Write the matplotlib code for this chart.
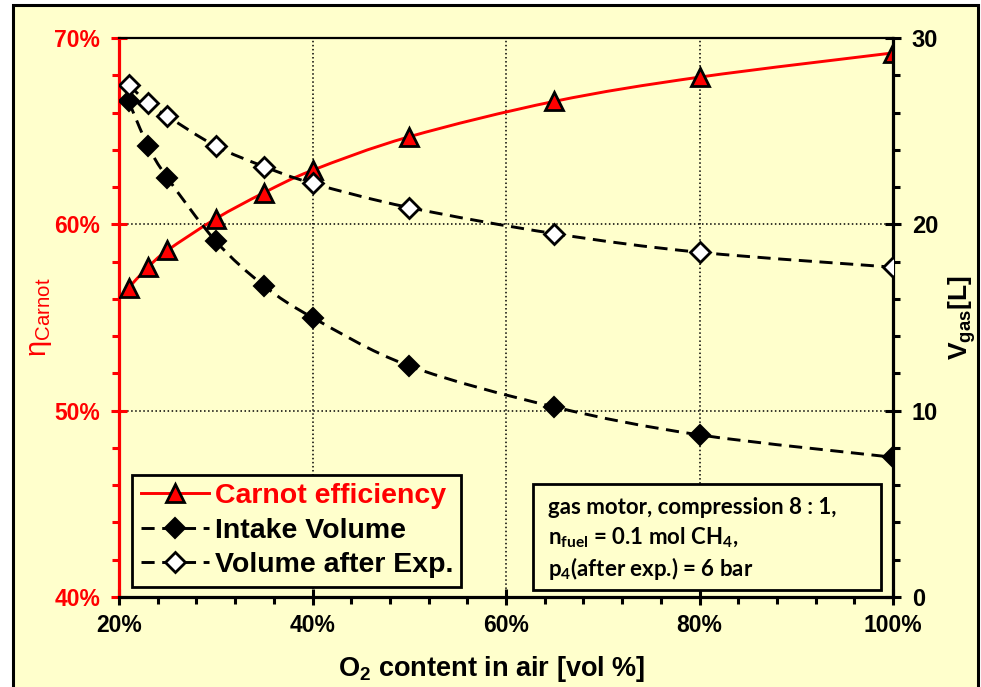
import matplotlib
matplotlib.use("Agg")
import matplotlib.pyplot as plt
from matplotlib.lines import Line2D
from matplotlib.patches import PathPatch, Rectangle
from matplotlib.path import Path
from matplotlib.ticker import MultipleLocator, FuncFormatter

plt.rcParams["font.family"] = ["Liberation Sans", "DejaVu Sans"]
plt.rcParams["font.weight"] = "bold"
plt.rcParams["mathtext.default"] = "regular"

# data
o2_content = [21, 23, 25, 30, 35, 40, 50, 65, 80, 100]
carnot_eff = [56.6, 57.7, 58.6, 60.3, 61.7, 62.9, 64.7, 66.6, 67.9, 69.2]
intake_vol = [26.6, 24.2, 22.5, 19.1, 16.7, 15.0, 12.4, 10.2, 8.7, 7.5]
vol_after_exp = [27.5, 26.5, 25.8, 24.2, 23.1, 22.2, 20.9, 19.5, 18.5, 17.7]

YELLOW = "#FFFFCC"
RED = "#FF0000"


def smooth_path(x, y):
    # Excel-like smoothed line: Catmull-Rom segments as cubic Beziers
    pts = list(zip(x, y))
    verts = [pts[0]]
    codes = [Path.MOVETO]
    n = len(pts)
    for i in range(n - 1):
        p0 = pts[max(i - 1, 0)]
        p1 = pts[i]
        p2 = pts[i + 1]
        p3 = pts[min(i + 2, n - 1)]
        c1 = (p1[0] + (p2[0] - p0[0]) / 6, p1[1] + (p2[1] - p0[1]) / 6)
        c2 = (p2[0] - (p3[0] - p1[0]) / 6, p2[1] - (p3[1] - p1[1]) / 6)
        verts += [c1, c2, p2]
        codes += [Path.CURVE4] * 3
    return Path(verts, codes)


fig = plt.figure(figsize=(9.81, 6.87), dpi=100, facecolor="white")
fig.patches.append(Rectangle((13 / 981, -0.02), 965 / 981, 1.02 - 5 / 687,
                             transform=fig.transFigure, facecolor=YELLOW,
                             edgecolor="black", linewidth=2.2, zorder=-10))

ax = fig.add_axes([119 / 981, 1 - 597 / 687, (893 - 119) / 981, (597 - 38) / 687])
ax.set_facecolor(YELLOW)
ax2 = ax.twinx()

tri = dict(marker="^", markersize=13, markerfacecolor=RED,
           markeredgecolor="black", markeredgewidth=2)
dia_full = dict(marker="D", markersize=10, markerfacecolor="black",
                markeredgecolor="black", markeredgewidth=1.5)
dia_open = dict(marker="D", markersize=10, markerfacecolor="white",
                markeredgecolor="black", markeredgewidth=2)
dash = (0, (4.5, 2.6))

# Carnot efficiency on the left axis
ax.add_patch(PathPatch(smooth_path(o2_content, carnot_eff), fill=False,
                       edgecolor=RED, linewidth=2.1, zorder=3))
ax.plot(o2_content, carnot_eff, linestyle="none", zorder=4, **tri)

# volumes on the right axis
ax2.add_patch(PathPatch(smooth_path(o2_content, intake_vol), fill=False,
                        edgecolor="black", linewidth=2.1, linestyle=dash, zorder=3))
ax2.add_patch(PathPatch(smooth_path(o2_content, vol_after_exp), fill=False,
                        edgecolor="black", linewidth=2.1, linestyle=dash, zorder=3))
ax2.plot(o2_content, intake_vol, linestyle="none", zorder=4, **dia_full)
ax2.plot(o2_content, vol_after_exp, linestyle="none", zorder=4, **dia_open)

ax.set_xlim(20, 100)
ax.set_ylim(40, 70)
ax2.set_ylim(0, 30)

ax.xaxis.set_major_locator(MultipleLocator(20))
ax.xaxis.set_minor_locator(MultipleLocator(4))
ax.xaxis.set_major_formatter(FuncFormatter(lambda v, p: f"{v:.0f}%"))
ax.yaxis.set_major_locator(MultipleLocator(10))
ax.yaxis.set_minor_locator(MultipleLocator(2))
ax.yaxis.set_major_formatter(FuncFormatter(lambda v, p: f"{v:.0f}%"))
ax2.yaxis.set_major_locator(MultipleLocator(10))
ax2.yaxis.set_minor_locator(MultipleLocator(2))

ax.grid(True, which="major", color="black", linestyle=":", linewidth=1.1)

for s in ("left", "bottom"):
    ax.spines[s].set_linewidth(2.3)
ax.spines["left"].set_color(RED)
ax.spines["top"].set_linewidth(1.6)
ax.spines["right"].set_visible(False)
for s in ("left", "bottom", "top"):
    ax2.spines[s].set_visible(False)
ax2.spines["right"].set_linewidth(2.3)

ax.tick_params(axis="x", which="major", direction="inout", length=11, width=2.2,
               labelsize=16.5, pad=7, color="black")
ax.tick_params(axis="x", which="minor", direction="out", length=5, width=2.2)
ax.tick_params(axis="y", which="major", direction="inout", length=11, width=2.2,
               labelsize=16.5, pad=8, color=RED, labelcolor=RED)
ax.tick_params(axis="y", which="minor", direction="out", length=5, width=2.2, color=RED)
ax2.tick_params(axis="y", which="major", direction="inout", length=11, width=2.2,
                labelsize=17, pad=8)
ax2.tick_params(axis="y", which="minor", direction="out", length=5, width=2.2)

ax.set_xlabel("O$_2$ content in air [vol %]", fontsize=19.5, fontweight="bold")
ax.xaxis.set_label_coords(0.482, -0.102)
ax.set_ylabel(r"η$_{Carnot}$", fontsize=21, color=RED, fontweight="normal", labelpad=0)
ax2.set_ylabel(r"V$_{gas}$[L]", fontsize=19, fontweight="bold", labelpad=6)

handles = [
    Line2D([], [], color=RED, linewidth=2.1, **tri),
    Line2D([], [], color="black", linewidth=2.1, linestyle=dash, **dia_full),
    Line2D([], [], color="black", linewidth=2.1, linestyle=dash, **dia_open),
]
leg = ax2.legend(handles, ["Carnot efficiency", "Intake Volume", "Volume after Exp."],
                 loc="lower left", bbox_to_anchor=(132 / 981, 1 - 587 / 687),
                 bbox_transform=fig.transFigure, fancybox=False, framealpha=1,
                 facecolor=YELLOW, edgecolor="black", prop={"size": 20.5, "weight": "bold"},
                 handlelength=2.4, handletextpad=0.2, labelspacing=0.3,
                 borderpad=0.3, borderaxespad=0)
leg.get_frame().set_linewidth(2)
leg.get_texts()[0].set_color(RED)

# note box
fig.patches.append(Rectangle((533 / 981, 1 - 590 / 687), (881 - 533) / 981, 106 / 687,
                             transform=fig.transFigure, facecolor=YELLOW,
                             edgecolor="black", linewidth=2, zorder=5))
note_lines = ["gas motor, compression 8 : 1,",
              "n$_{fuel}$ = 0.1 mol CH$_4$,",
              "p$_4$(after exp.) = 6 bar"]
for i, t in enumerate(note_lines):
    fig.text(548 / 981, 1 - (507 + i * 31) / 687, t, fontsize=16, fontweight="bold",
             family=["Lato", "DejaVu Sans"], va="center", ha="left", zorder=6)

fig.savefig("out.png", dpi=100, facecolor="white")
